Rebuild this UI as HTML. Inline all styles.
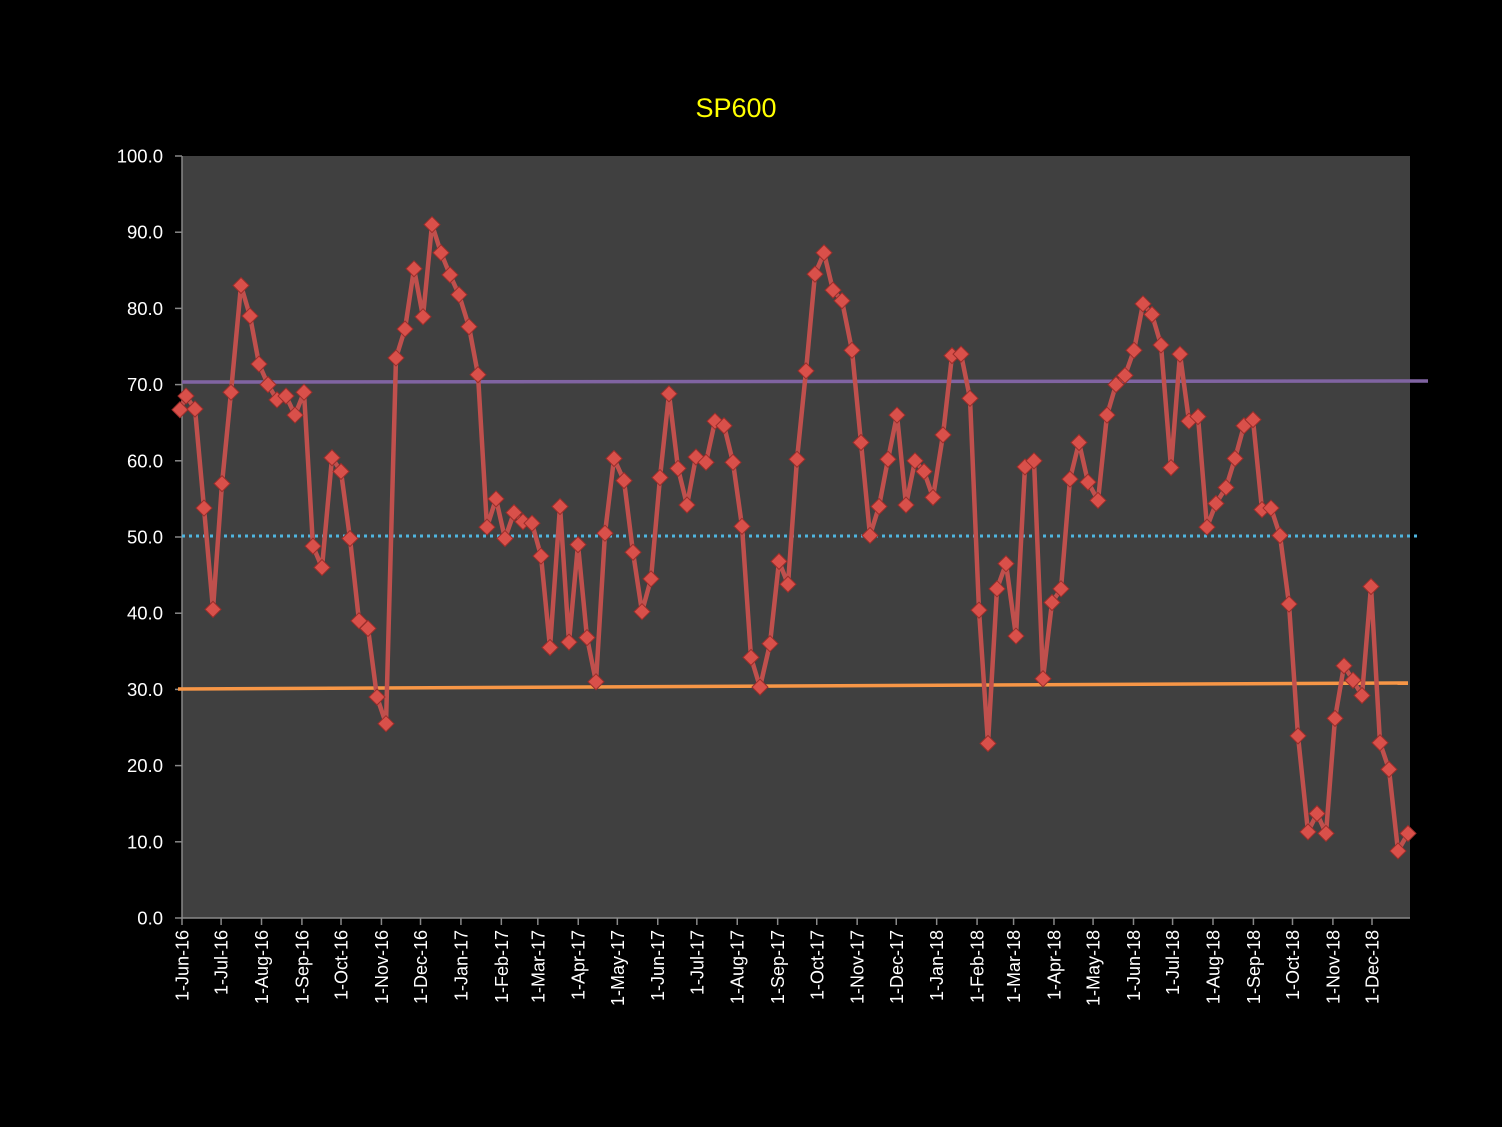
<!DOCTYPE html><html><head><style>body{margin:0;background:#000}svg{display:block}</style></head><body>
<svg id="s" width="1502" height="1127" xmlns="http://www.w3.org/2000/svg" font-family="Liberation Sans, DejaVu Sans, sans-serif">
<rect width="1502" height="1127" fill="#000"/>
<rect x="182" y="156" width="1228" height="762" fill="#404040"/>
<text x="736" y="117" fill="#ffff00" font-size="27" text-anchor="middle">SP600</text>
<g id="ax" stroke="#888" stroke-width="1.5"><line x1="182" y1="156" x2="182" y2="918"/><line x1="182" y1="918" x2="1410" y2="918"/></g>
<g id="yl" fill="#fff" font-size="18.5" text-anchor="end"></g>
<g id="xl" fill="#fff" font-size="18" text-anchor="end"></g>
<line x1="182" y1="536" x2="1420" y2="536" stroke="#4fb6e0" stroke-width="3" stroke-dasharray="3,4"/>
<line x1="182" y1="382" x2="1428" y2="381" stroke="#8064a2" stroke-width="3.5"/>
<line x1="178" y1="689" x2="1408" y2="683" stroke="#f79646" stroke-width="3.5"/>
<g id="d"></g>
</svg>
<script>
var ns="http://www.w3.org/2000/svg",s=document.getElementById('s');
function el(t,a,p,txt){var e=document.createElementNS(ns,t);for(var k in a)e.setAttribute(k,a[k]);if(txt)e.textContent=txt;(p||s).appendChild(e);return e;}
var yl=document.getElementById('yl'),ax=document.getElementById('ax'),xl=document.getElementById('xl');
for(var i=0;i<=10;i++){var y=918-i*76.2;el('text',{x:163,y:y+6.5},yl,(i*10).toFixed(1));el('line',{x1:175,y1:y,x2:182,y2:y},ax);}
var M=['Jan','Feb','Mar','Apr','May','Jun','Jul','Aug','Sep','Oct','Nov','Dec'];
var t0=Date.UTC(2016,5,1);
for(var m=5;m<=5+30;m++){var yr=2016+Math.floor(m/12),mm=m%12;var x=182+(Date.UTC(yr,mm,1)-t0)/864e5*1.3034;
el('line',{x1:x,y1:918,x2:x,y2:925},ax);
el('text',{x:0,y:0,transform:'translate('+(x+6.5)+',930) rotate(-90)'},xl,'1-'+M[mm]+'-'+(yr%100));}
var D=[[180,66.7],[186,68.5],[195,66.8],[204,53.8],[213,40.5],[222,57],[231,69],[241,83],[250,79],[259,72.7],[268,70],[277,68],[286,68.5],[295,66],[304,69],[313,48.8],[322,46],[332,60.4],[341,58.6],[350,49.8],[359,39],[368,38],[377,29],[386,25.5],[396,73.5],[405,77.3],[414,85.2],[423,78.9],[432,91],[441,87.3],[450,84.4],[459,81.8],[469,77.6],[478,71.3],[487,51.3],[496,55],[505,49.8],[514,53.2],[523,52],[532,51.8],[541,47.5],[550,35.5],[560,54],[569,36.2],[578,49],[587,36.8],[596,31],[605,50.5],[614,60.3],[624,57.4],[633,48],[642,40.2],[651,44.5],[660,57.8],[669,68.8],[678,59],[687,54.2],[696,60.5],[706,59.8],[715,65.2],[724,64.6],[733,59.8],[742,51.4],[751,34.2],[760,30.3],[770,36],[779,46.8],[788,43.8],[797,60.2],[806,71.8],[815,84.5],[824,87.3],[833,82.4],[842,81],[852,74.5],[861,62.4],[870,50.2],[879,54],[888,60.2],[897,66],[906,54.2],[915,60],[924,58.6],[933,55.2],[943,63.4],[952,73.8],[961,74],[970,68.2],[979,40.4],[988,22.9],[997,43.2],[1006,46.5],[1016,37],[1025,59.2],[1034,60],[1043,31.4],[1052,41.4],[1061,43.2],[1070,57.6],[1079,62.4],[1088,57.2],[1098,54.8],[1107,66],[1116,70],[1125,71.2],[1134,74.5],[1143,80.6],[1152,79.2],[1161,75.2],[1171,59.1],[1180,74],[1189,65.2],[1198,65.8],[1207,51.3],[1216,54.4],[1226,56.5],[1235,60.3],[1244,64.6],[1253,65.4],[1262,53.6],[1271,53.8],[1280,50.2],[1289,41.2],[1298,23.9],[1308,11.3],[1317,13.7],[1326,11.1],[1335,26.2],[1344,33.1],[1353,31.2],[1362,29.2],[1371,43.5],[1380,23],[1389,19.5],[1398,8.8],[1408,11.1]];
var g=document.getElementById('d'),pts=D.map(function(p){return p[0]+','+(918-p[1]*7.62).toFixed(1)}).join(' ');
el('polyline',{points:pts,fill:'none',stroke:'#c0504d','stroke-width':4.5,'stroke-linejoin':'round'},g);
D.forEach(function(p){var x=p[0],y=918-p[1]*7.62;el('polygon',{points:x+','+(y-8)+' '+(x+8)+','+y+' '+x+','+(y+8)+' '+(x-8)+','+y,fill:'#d9504a',stroke:'#9b2d2a','stroke-width':1},g);});
</script></body></html>
